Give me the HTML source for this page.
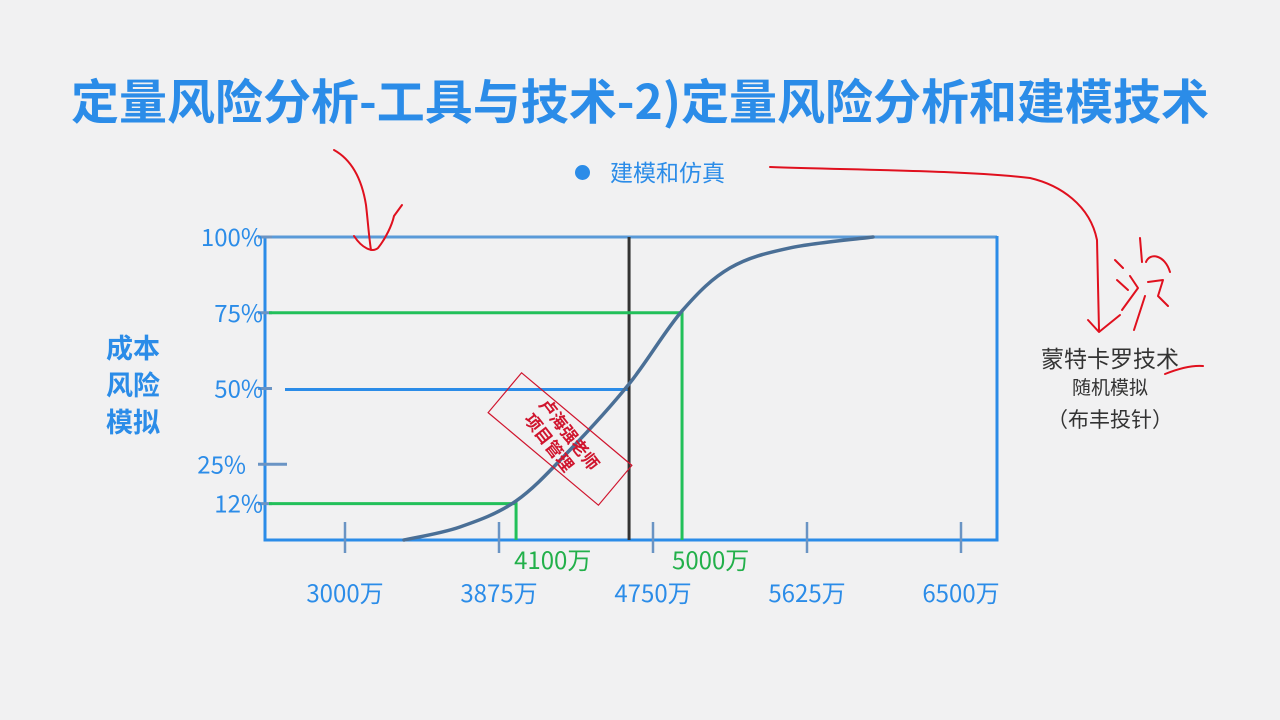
<!DOCTYPE html>
<html><head><meta charset="utf-8">
<style>
html,body{margin:0;padding:0;background:#f1f1f2;}
body{width:1280px;height:720px;overflow:hidden;position:relative;font-family:"Noto Sans CJK SC","Liberation Sans",sans-serif;}
.t{position:absolute;white-space:nowrap;}
</style></head>
<body>
<div class="t" style="left:0;width:1280px;text-align:center;top:66px;font-size:48px;line-height:64px;font-weight:bold;color:#2b8ce8;">定量风险分析-工具与技术-2)定量风险分析和建模技术</div>
<div class="t" style="left:575px;top:165px;width:15px;height:15px;border-radius:50%;background:#2b8ce8;"></div>
<div class="t" style="left:610px;top:154px;font-size:23px;line-height:34px;color:#2b8ce8;">建模和仿真</div>
<div class="t" style="left:94px;top:328px;width:78px;text-align:center;font-size:27px;line-height:37px;font-weight:bold;color:#2b8ce8;">成本<br>风险<br>模拟</div>
<div class="t" style="left:1010px;top:340px;width:200px;text-align:center;font-size:23px;line-height:34px;color:#333;">蒙特卡罗技术</div>
<div class="t" style="left:1010px;top:372px;width:200px;text-align:center;font-size:19px;line-height:30px;color:#333;">随机模拟</div>
<div class="t" style="left:1010px;top:403px;width:200px;text-align:center;font-size:21px;line-height:32px;color:#333;">（布丰投针）</div>

<svg id="chart" width="1280" height="720" style="position:absolute;left:0;top:0;">
</svg>
<script>
const xTicks=[3000,3875,4750,5625,6500];
const xTickLabels=["3000万","3875万","4750万","5625万","6500万"];
const yTicks=[100,75,50,25,12];
const yTickLabels=["100%","75%","50%","25%","12%"];
const curveX=[3335,3653,3972,4278,4614,4915,5188,5528,6000];
const curveY=[0,4.3,12.9,29.7,51.5,75.6,89.8,96.4,100];
const markerX=[3972,4915];
const markerY=[12,75];
const markerLabels=["4100万","5000万"];
const medianX=4614;
const medianY=50;

const NS="http://www.w3.org/2000/svg";
const FONT='Noto Sans CJK SC, Liberation Sans, sans-serif';
const svg=document.getElementById('chart');
const X0=265,X1=997,Y0=540,Y1=237;
function xs(v){return 345+(v-3000)*(154/875);}
function ys(p){return Y0-(p/100)*(Y0-Y1);}
function mk(tag,attrs,parent){const e=document.createElementNS(NS,tag);for(const k in attrs)e.setAttribute(k,attrs[k]);(parent||svg).appendChild(e);return e;}

let e=mk('line',{x1:X0,y1:Y1,x2:X1,y2:Y1,stroke:'#5a9ad8','stroke-width':3});

e=mk('path',{d:`M${X0},${Y1-1}V${Y0}H${X1}V${Y1-1}`,fill:'none',stroke:'#2b8ce8','stroke-width':3});


yTicks.forEach((p,i)=>{
  const y=ys(p);
  const t=mk('line',{x1:258,y1:y,x2:p===25?287:272,y2:y,stroke:'#6a94c4','stroke-width':3});
  
  const tx=mk('text',{x:p===25?246:263,y:y+9,'text-anchor':'end','font-size':24,fill:'#2b8ce8','font-family':FONT});
  tx.textContent=yTickLabels[i];
  
});
xTicks.forEach((v,i)=>{
  const x=xs(v);
  const t=mk('line',{x1:x,y1:522,x2:x,y2:553,stroke:'#6a94c4','stroke-width':2.5});
  
  const tx=mk('text',{x:x,y:602,'text-anchor':'middle','font-size':24,fill:'#2b8ce8','font-family':FONT});
  tx.textContent=xTickLabels[i];
  
});
e=mk('line',{x1:285,y1:ys(medianY)+1,x2:xs(medianX),y2:ys(medianY)+1,stroke:'#2b8ce8','stroke-width':3});

e=mk('line',{x1:xs(medianX),y1:Y1,x2:xs(medianX),y2:Y0,stroke:'#333','stroke-width':3});

markerX.forEach((v,i)=>{
  const x=xs(v),y=ys(markerY[i]);
  const g=mk('path',{d:`M269,${y}H${x}V${Y0}`,fill:'none',stroke:'#22c05a','stroke-width':3});
  
  const tx=mk('text',{x:x-2-i*8,y:569,'font-size':24,fill:'#22b04a','font-family':FONT});
  tx.textContent=markerLabels[i];
  
});
const pts=curveX.map((v,i)=>[xs(v),ys(curveY[i])]);
let d=`M${pts[0][0]},${pts[0][1]}`;
for(let i=0;i<pts.length-1;i++){
  const p0=pts[i-1]||pts[i],p1=pts[i],p2=pts[i+1],p3=pts[i+2]||p2;
  d+=`C${p1[0]+(p2[0]-p0[0])/6},${p1[1]+(p2[1]-p0[1])/6} ${p2[0]-(p3[0]-p1[0])/6},${p2[1]-(p3[1]-p1[1])/6} ${p2[0]},${p2[1]}`;
}
e=mk('path',{d:d,fill:'none',stroke:'#4a6f96','stroke-width':3.5,'stroke-linecap':'round'});


const st=mk('g',{transform:'translate(560,439) rotate(40)'});

mk('rect',{x:-72,y:-26,width:144,height:52,fill:'none',stroke:'#d0152e','stroke-width':1.2},st);
const sg=mk('g',{transform:'rotate(12)'},st);
const s1=mk('text',{x:2,y:-4,'text-anchor':'middle','font-size':17,'font-weight':'bold',fill:'#d0152e','font-family':FONT},sg);
s1.textContent='卢海强老师';

const s2=mk('text',{x:-4,y:17,'text-anchor':'middle','font-size':17,'font-weight':'bold',fill:'#d0152e','font-family':FONT},sg);
s2.textContent='项目管理';


const red={fill:'none',stroke:'#e0101e','stroke-width':2,'stroke-linecap':'round','stroke-linejoin':'round'};
[
 'M334,150 C352,160 362,180 366,205 C368,222 369,238 371,250',
 'M354,236 C362,248 372,253 378,248 C386,238 392,225 394,216 L402,205',
 'M770,167 C850,170 960,170 1030,178 C1060,185 1090,205 1097,240 L1099,330',
 'M1088,320 L1099,332 L1120,315',
 'M1115,260 L1123,268 M1117,280 L1128,290 M1122,310 L1138,288 L1130,276 M1140,238 L1142,262 M1146,262 C1150,252 1165,255 1170,272 M1148,282 L1163,280 L1158,296 L1168,306 M1145,296 L1134,330',
 'M1165,374 C1175,370 1190,365 1203,366'
].forEach(p=>{const a=mk('path',Object.assign({d:p},red));});
</script>
</body></html>
